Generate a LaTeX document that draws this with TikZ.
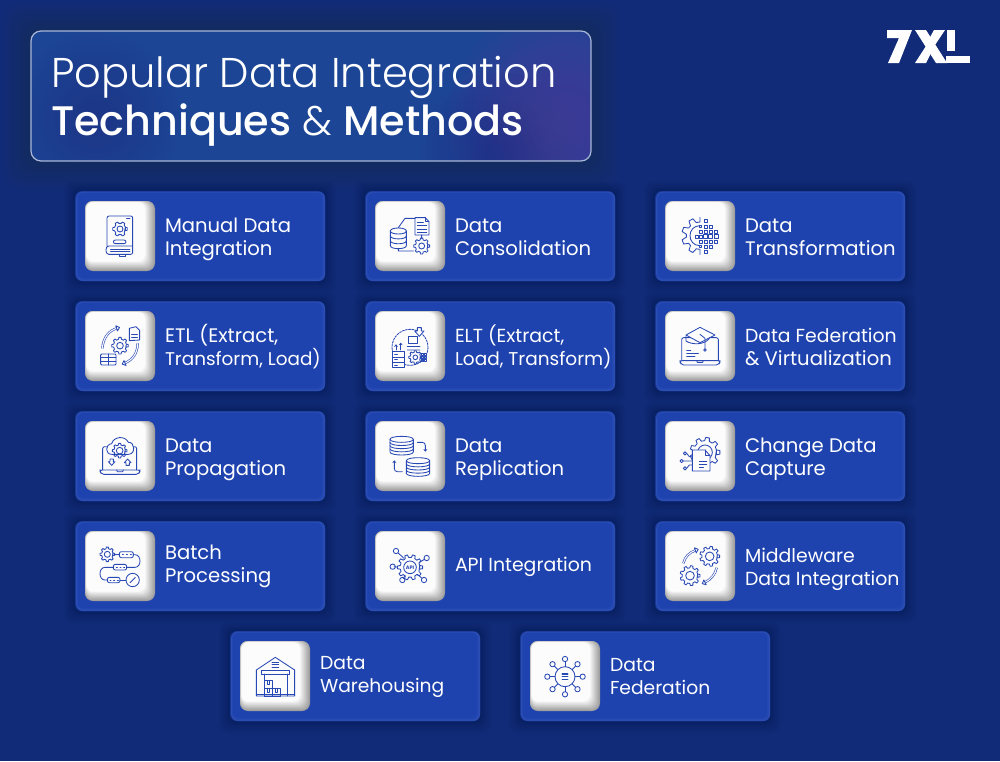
\documentclass[tikz,border=0pt]{standalone}
\usepackage{fontspec}
\usetikzlibrary{arrows.meta}
\setmainfont{Poppins}
\newfontfamily\poplight{Poppins Light}
\newfontfamily\popmed{Poppins Medium}
\definecolor{bgc}{HTML}{122B78}
\definecolor{cardc}{HTML}{1E43AE}
\definecolor{carde}{HTML}{2B4DB4}
\definecolor{icc}{HTML}{2848B4}
\definecolor{tbase}{HTML}{1C4595}
\definecolor{tpurple}{HTML}{4C3A95}
\definecolor{tdark}{HTML}{1F3288}
\newcommand\lsz[1]{\fontsize{#1}{22.8}\selectfont}
\tikzset{
  ic/.style={draw=icc,line width=.85pt,line join=round,line cap=round},
  cardbox/.style={fill=cardc!55!bgc,rounded corners=7pt,minimum width=250pt,minimum height=90pt,inner sep=0,outer sep=0},
  whitebox/.style={rounded corners=8pt,minimum width=70pt,minimum height=70pt,inner sep=0,outer sep=0},
  cardlabel/.style={text=white,anchor=base west,align=left,inner sep=0,outer sep=0,font=\lsz{19.6}},
  logoshape/.style={fill=white,draw=none},
  titleline/.style={text=white,anchor=base west,inner sep=0,outer sep=0},
}
% curved outlined arrow: x0 y0 c1x c1y c2x c2y x1 y1
\newcommand\icarrow[8]{%
  \draw[ic,line width=.6pt,double=white,double distance=1.1pt,line cap=butt] (#1,#2) .. controls (#3,#4) and (#5,#6) .. (#7,#8);
  \pgfmathsetmacro\arang{atan2(#8-#6,#7-#5)}
  \draw[ic,fill=white] ({#7+9*cos(\arang)},{#8+9*sin(\arang)}) -- ({#7+8*cos(\arang+90)},{#8+8*sin(\arang+90)}) -- ({#7+8*cos(\arang-90)},{#8+8*sin(\arang-90)}) -- cycle;
}
% gear: cx cy R teeth innerR
\newcommand\icgear[5]{%
  \draw[ic] ({#1+.78*#3*cos(-.3*360/#4)},{#2+.78*#3*sin(-.3*360/#4)})
  \foreach \gi [evaluate=\gi as \ga using \gi*360/#4, evaluate=\gi as \gs using 360/#4] in {1,...,#4}{
    -- ({#1+.78*#3*cos(\ga-.3*\gs)},{#2+.78*#3*sin(\ga-.3*\gs)})
    -- ({#1+#3*cos(\ga-.17*\gs)},{#2+#3*sin(\ga-.17*\gs)})
    -- ({#1+#3*cos(\ga+.17*\gs)},{#2+#3*sin(\ga+.17*\gs)})
    -- ({#1+.78*#3*cos(\ga+.3*\gs)},{#2+.78*#3*sin(\ga+.3*\gs)})
  } -- cycle;
  \draw[ic] (#1,#2) circle[radius=#5];
}
% database: cx top rx ry height bands
\newcommand\icdb[6]{%
  \draw[ic] ({#1-#3},#2) .. controls ({#1-#3},{#2-1.33*#4}) and ({#1+#3},{#2-1.33*#4}) .. ({#1+#3},#2)
     .. controls ({#1+#3},{#2+1.33*#4}) and ({#1-#3},{#2+1.33*#4}) .. cycle;
  \draw[ic] ({#1-#3},#2) -- ({#1-#3},{#2+#5}) .. controls ({#1-#3},{#2+#5+1.33*#4}) and ({#1+#3},{#2+#5+1.33*#4}) .. ({#1+#3},{#2+#5}) -- ({#1+#3},#2);
  \foreach \di in {1,...,#6}{
    \draw[ic] ({#1-#3},{#2+\di*#5/(#6+1)}) .. controls ({#1-#3},{#2+\di*#5/(#6+1)+1.33*#4}) and ({#1+#3},{#2+\di*#5/(#6+1)+1.33*#4}) .. ({#1+#3},{#2+\di*#5/(#6+1)});
  }
}
\newcommand\iclaptop[6]{% scrL scrT scrR scrB baseL baseR
  \draw[ic,rounded corners=2pt] (#1,#4) -- (#1,#2) -- (#3,#2) -- (#3,#4);
  \draw[ic,rounded corners=2pt] (#5,#4) -- (#6,#4) -- (#6,{#4+5}) -- ({#6-5},{#4+13}) -- ({#5+5},{#4+13}) -- (#5,{#4+5}) -- cycle;
  \draw[ic] ({(#5+#6)/2-10},#4) -- ({(#5+#6)/2-8},{#4+5}) -- ({(#5+#6)/2+8},{#4+5}) -- ({(#5+#6)/2+10},#4);
}
\newcommand\icA{%
  \draw[ic,rounded corners=2pt] (111,183) -- (111,93) -- (188,93) -- (188,208) -- (122,208) .. controls (105,208) and (105,183) .. (122,183) -- (188,183);
  \draw[ic] (122,192) -- (180,192) (122,198) -- (180,198);
  \draw[ic] (148,208) -- (148,213) -- (165,213) -- (165,208);
  \draw[ic] (170,100) -- (180,100);
  \icgear{150}{132}{22}{6}{9}
  \draw[ic,rounded corners=2pt] (130,165) rectangle (168,176);
}
\newcommand\icB{%
  \icdb{115}{138}{24}{9}{44}{2}
  \draw[ic] (115,128) -- (135,100) -- (165,100) (115,192) -- (115,198) -- (160,198) (185,150) -- (185,160);
  \draw[ic] (165,98) -- (196,98) -- (207,110) -- (207,150) -- (165,150) -- cycle;
  \draw[ic] (196,98) -- (196,110) -- (207,110);
  \draw[ic] (172,112) -- (190,112) (172,122) -- (200,122) (172,132) -- (200,132) (172,141) -- (200,141);
  \icgear{185}{183}{24}{8}{9}
}
\newcommand\icC{%
  \draw[ic] (150,97) -- (150,111)
  \foreach \ga in {240,200,160,120}{
    -- ({150+41*cos(\ga+14)},{152+41*sin(\ga+14)})
    -- ({150+55*cos(\ga+7)},{152+55*sin(\ga+7)})
    -- ({150+55*cos(\ga-7)},{152+55*sin(\ga-7)})
    -- ({150+41*cos(\ga-14)},{152+41*sin(\ga-14)})
  } -- (150,193) -- (150,208);
  \draw[ic] (150,122) .. controls (110,122) and (110,182) .. (150,182);
  \foreach \px/\py/\ps in {167/108/4,152/125/3,167/125/5,182/125/4,152/140/4,167/140/5,182/140/5,198/140/5,140/155/4,152/155/5,167/155/6,182/155/6,198/155/6,152/170/4,167/170/5,182/170/5,198/170/4,152/185/3,167/185/5,182/185/4,167/201/4}{
    \draw[ic] ({\px-\ps},{\py-\ps}) rectangle ({\px+\ps},{\py+\ps});
  }
}
\newcommand\icD{%
  \icarrow{97}{160}{100}{125}{118}{107}{140}{100}
  \draw[ic] (178,100) -- (198,95) -- (209,106) -- (209,135) -- (178,137) -- cycle;
  \draw[ic] (185,118) -- (202,118) (185,127) -- (202,127);
  \icgear{150}{152}{25}{8}{10}
  \draw[ic,rounded corners=1pt] (92,177) rectangle (138,210);
  \draw[ic] (92,188) -- (138,188) (92,199) -- (138,199) (115,177) -- (115,210);
  \icarrow{203}{145}{203}{175}{187}{195}{165}{204}
}
\newcommand\icE{%
  \draw[ic,dashed,dash pattern=on 2pt off 1.2pt] (150,157) circle[radius=54];
  \draw[ic,fill=white] (145,125) rectangle (172,146);
  \draw[ic,fill=white] (172,98) -- (184,98) -- (184,108) -- (192,108) -- (178,124) -- (164,108) -- (172,108) -- cycle;
  \draw[ic] (142,155) .. controls (150,150) and (155,160) .. (162,155) .. controls (170,150) and (175,160) .. (180,155);
  \draw[ic] (142,165) .. controls (150,160) and (155,170) .. (162,165) .. controls (170,160) and (175,170) .. (180,165);
  \draw[ic,fill=white] (97,170) rectangle (133,217);
  \draw[ic] (97,186) -- (133,186) (97,202) -- (133,202) (104,178) -- (112,178) (104,194) -- (112,194) (104,210) -- (112,210);
  \draw[ic,-{Stealth[length=2.5pt,width=4pt]}] (108,165) -- (108,148);
  \draw[ic,-{Stealth[length=2.5pt,width=4pt]}] (122,165) -- (122,143);
  \icgear{166}{187}{20}{8}{7}
  \foreach \px/\py in {187/178,187/187,187/196,195/178,195/187,195/196}{\draw[ic] ({\px-3},{\py-3}) rectangle ({\px+3},{\py+3});}
}
\newcommand\icF{%
  \iclaptop{95}{128}{205}{197}{90}{210}
  \draw[ic,fill=white] (108,120) -- (150,97) -- (195,120) -- (150,143) -- cycle;
  \draw[ic] (108,122) -- (108,138) .. controls (125,150) and (165,150) .. (178,130);
  \draw[ic] (150,118) -- (165,130) -- (165,160);
  \draw[ic] (165,165) circle[radius=4];
  \draw[ic] (110,165) -- (122,165) (110,175) -- (145,175) (110,184) -- (135,184);
}
\newcommand\icG{%
  \iclaptop{98}{125}{200}{195}{90}{210}
  \draw[ic,fill=white] (125,148) .. controls (105,148) and (105,118) .. (125,116) .. controls (130,95) and (165,90) .. (175,112) .. controls (195,110) and (198,148) .. (175,148) -- cycle;
  \icgear{149}{137}{22}{8}{10}
  \draw[ic] (120,162) -- (130,162) -- (130,170) -- (135,170) -- (125,181) -- (115,170) -- (120,170) -- cycle;
  \draw[ic] (168,181) -- (178,181) -- (178,173) -- (183,173) -- (173,162) -- (163,173) -- (168,173) -- cycle;
}
\newcommand\icH{%
  \icgear{112}{118}{22}{8}{9}
  \draw[ic,rounded corners=2pt] (148,110) rectangle (190,128);
  \draw[ic,rounded corners=2pt] (130,148) rectangle (170,165);
  \draw[ic,rounded corners=2pt] (112,187) rectangle (150,203);
  \draw[ic] (134,119) -- (148,119);
  \draw[ic] (190,119) -- (195,119) .. controls (215,119) and (215,157) .. (195,157) -- (170,157);
  \draw[ic] (130,157) -- (105,157) .. controls (85,157) and (85,195) .. (105,195) -- (112,195);
  \draw[ic] (150,195) -- (168,195);
  \draw[ic] (188,195) circle[radius=20];
  \draw[ic] (180,203) -- (196,187);
  \foreach \px/\py in {157/119,169/119,181/119,139/157,150/157,161/157,120/195,131/195,142/195}{\draw[ic] (\px,\py) -- ++(3,0);}
}
\newcommand\icI{%
  \icdb{125}{103}{35}{9}{38}{3}
  \icdb{174}{167}{35}{9}{38}{3}
  \draw[ic,rounded corners=3pt,-{Stealth[length=2.5pt,width=4pt]}] (172,112) -- (196,112) -- (196,140);
  \draw[ic,rounded corners=3pt,-{Stealth[length=2.5pt,width=4pt]}] (127,200) -- (103,200) -- (103,166);
}
\newcommand\icJ{%
  \icgear{150}{157}{38}{10}{19}
  \node[inner sep=0,text=icc,font=\fontsize{5}{5}\selectfont\bfseries] (apitext) at (150,157) {API};
  \foreach \px/\py/\qx/\qy in {108/108/132/130,200/129/178/142,98/155/112/156,127/195/135/182,192/195/172/178}{
    \draw[ic] (\px,\py) circle[radius=8];
    \draw[ic] (\px,\py) ++({(\qx-\px)*.3},{(\qy-\py)*.3}) -- (\qx,\qy);
  }
}
\newcommand\icK{%
  \icgear{165}{142}{45}{9}{22}
  \draw[ic,fill=white] (127,135) -- (165,135) -- (180,152) -- (180,198) -- (127,198) -- cycle;
  \draw[ic] (165,135) -- (165,152) -- (180,152);
  \draw[ic] (148,168) -- (170,168) (148,178) -- (170,178) (148,188) -- (160,188);
  \foreach \px/\py in {105/145,95/168,105/190}{\draw[ic] (\px,\py) circle[radius=5];}
  \draw[ic] (110,145) -- (118,155) -- (127,155) (100,168) -- (127,168) (110,190) -- (118,180) -- (127,180);
}
\newcommand\icL{%
  \icgear{179}{124}{30}{9}{13}
  \icgear{120}{182}{30}{9}{13}
  \icarrow{100}{145}{105}{125}{117}{113}{136}{106}
  \icarrow{200}{158}{196}{178}{183}{193}{165}{202}
}
\newcommand\icM{%
  \draw[ic] (94,213) -- (94,135) -- (151,97) -- (209,135) -- (209,213) -- cycle;
  \draw[ic] (94,208) -- (209,208);
  \draw[ic] (141,112) -- (161,112) (141,119) -- (161,119) (141,126) -- (161,126);
  \draw[ic] (110,137) rectangle (193,147);
  \draw[ic] (117,147) -- (117,213) (186,147) -- (186,213);
  \draw[ic] (117,167) rectangle (141,190);
  \draw[ic] (117,190) rectangle (141,213);
  \draw[ic] (141,190) rectangle (165,213);
  \draw[ic] (126,167) -- (126,178) -- (132,178) -- (132,167) (126,190) -- (126,201) -- (132,201) -- (132,190) (150,190) -- (150,201) -- (156,201) -- (156,190);
}
\newcommand\icN{%
  \draw[ic] (150,155) circle[radius=30];
  \foreach \ga in {0,45,...,315}{
    \draw[ic] ({150+53*cos(\ga)},{155+53*sin(\ga)}) circle[radius=8];
    \draw[ic] ({150+30*cos(\ga)},{155+30*sin(\ga)}) -- ({150+45*cos(\ga)},{155+45*sin(\ga)});
  }
  \draw[ic,line width=1.6pt] (142,147) -- (158,147) (142,155) -- (158,155) (142,163) -- (158,163);
}
% name x y label baselineOffset icon
\newcommand\card[6]{%
  \foreach \si in {1,...,10}{
    \fill[black,opacity=.014,rounded corners=8pt] ({#2-\si*1.1},{#3-\si*1}) rectangle ({#2+250+\si*1.1},{#3+90+\si*1.2});
  }
  \node[cardbox] (#1) at ({#2+125},{#3+45}) {};
  \fill[carde,rounded corners=6.5pt] ({#2+1.2},{#3+.6}) rectangle ({#2+250},{#3+90});
  \fill[cardc!50!carde,rounded corners=6pt] ({#2+2},{#3+1.3}) rectangle ({#2+248.6},{#3+88.6});
  \fill[cardc,rounded corners=5pt] ({#2+2.8},{#3+2.2}) rectangle ({#2+247},{#3+87});
  \node[whitebox,fill=black!38!white] (#1box) at ({#2+45},{#3+45}) {};
  \foreach \wi [evaluate=\wi as \wv using 38-\wi*3.7] in {1,...,10}{
    \fill[black!\wv!white,rounded corners=7pt] ({#2+10+\wi*.14},{#3+10+\wi*.12}) rectangle ({#2+80-\wi*1},{#3+80-\wi*.95});
  }
  \node[cardlabel] (#1label) at ({#2+90},{#3+#5}) {#4};
  \begin{scope}[shift={({#2-5},{#3-6})},x=.33333pt,y=-.33333pt]
    #6
  \end{scope}
}
\begin{document}
\begin{tikzpicture}[x=1pt,y=-1pt]
\useasboundingbox (0,0) rectangle (1000,761);
\fill[bgc] (0,0) rectangle (1000,761);
\foreach \si in {1,...,24}{
  \fill[black!40!gray,opacity=.016,rounded corners=16pt] ({31-\si*1.2},{31-\si*1.2}) rectangle ({591+\si*1.2},{161+\si*1.2});
}
\begin{scope}
  \clip[rounded corners=10pt] (31,31) rectangle (591,161);
  \fill[tbase] (31,31) rectangle (591,161);
  \foreach \ri in {1,...,14}{
    \fill[tdark,opacity=.06] (95,118) circle[radius={90-\ri*5.5}];
    \fill[tdark,opacity=.07] (500,152) circle[radius={85-\ri*5.5}];
    \fill[tpurple,opacity=.085] (565,122) circle[radius={125-\ri*8}];
  }
\end{scope}
\node[draw=white!62!tbase,line width=1.2pt,rounded corners=10pt,minimum width=560pt,minimum height=130pt,inner sep=0,outer sep=0] (titlebox) at (311,96) {};
\node[titleline,font=\poplight\fontsize{41.6}{41.6}\selectfont] (title1) at (51,87) {Popular Data Integration};
\node[titleline,font=\fontsize{41.3}{41.3}\selectfont] (title2) at (51,135) {{\popmed Techniques} {\poplight\&} {\popmed Methods}};
\fill[logoshape] (887,30) -- (912,30) -- (899,63) -- (888,63) -- (899,38) -- (887,38) -- cycle;
\fill[logoshape] (915,30) -- (926,30) -- (947,63) -- (936,63) -- cycle;
\fill[logoshape] (945,30) -- (934,30) -- (928,41) -- (933,48) -- cycle;
\fill[logoshape] (915,63) -- (926,63) -- (931,53) -- (926,46) -- cycle;
\fill[logoshape] (947,30) -- (955,30) -- (955,51) -- (947,51) -- cycle;
\fill[logoshape] (946,56) -- (970,56) -- (970,63) -- (946,63) -- cycle;
\card{cA}{75}{191}{Manual Data\\Integration}{64}{\icA}
\card{cB}{365}{191}{Data\\Consolidation}{64}{\icB}
\card{cC}{655}{191}{Data\\Transformation}{64}{\icC}
\card{cD}{75}{301}{ETL (Extract,\\\lsz{18.4}Transform, Load)}{64}{\icD}
\card{cE}{365}{301}{\lsz{18.9}ELT (Extract,\\\lsz{18.5}Load, Transform)}{64}{\icE}
\card{cF}{655}{301}{\lsz{18.85}Data Federation\\\lsz{19.6}\& Virtualization}{64}{\icF}
\card{cG}{75}{411}{Data\\Propagation}{64}{\icG}
\card{cI}{365}{411}{Data\\Replication}{64}{\icI}
\card{cK}{655}{411}{Change Data\\Capture}{64}{\icK}
\card{cH}{75}{521}{Batch\\Processing}{61}{\icH}
\card{cJ}{365}{521}{\lsz{18.9}API Integration}{50}{\icJ}
\card{cL}{655}{521}{\lsz{18.9}Middleware\\\lsz{18.9}Data Integration}{64}{\icL}
\card{cM}{230}{631}{\lsz{18.8}Data\\\lsz{18.7}Warehousing}{61}{\icM}
\card{cN}{520}{631}{\lsz{18.8}Data\\\lsz{18.7}Federation}{63}{\icN}
\end{tikzpicture}
\end{document}
